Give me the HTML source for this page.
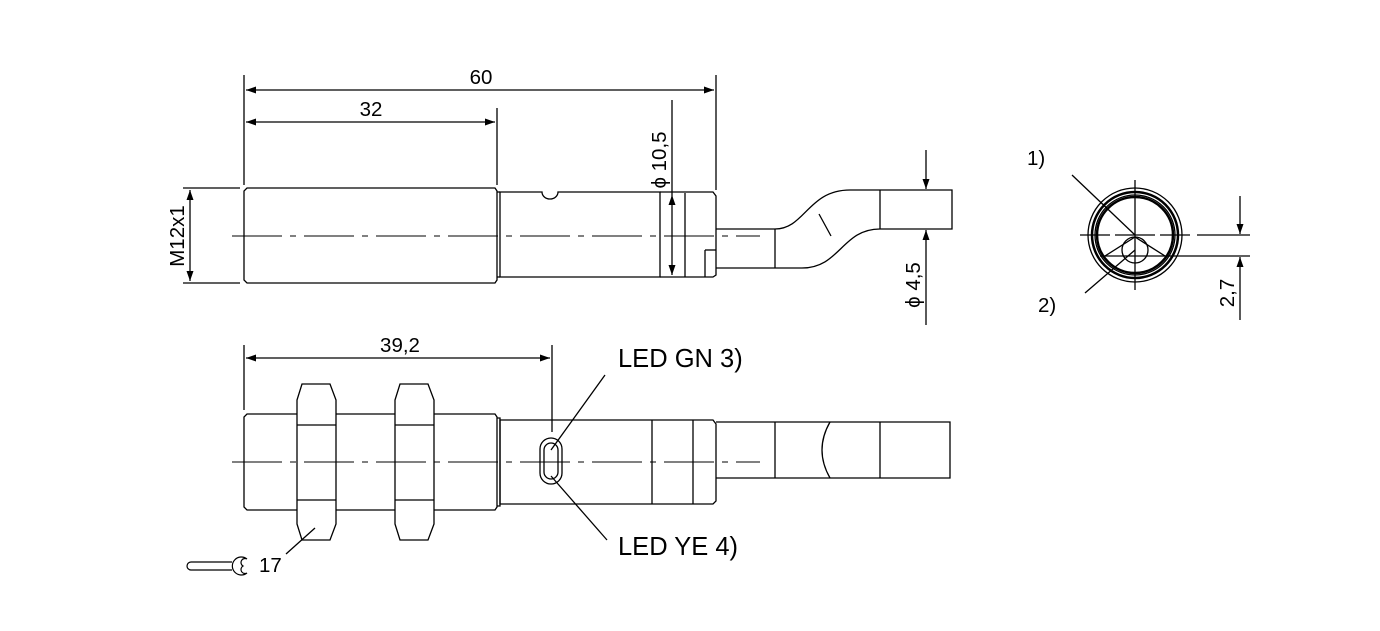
<!DOCTYPE html>
<html><head><style>html,body{margin:0;background:#fff}svg{display:block}</style></head>
<body>
<svg width="1380" height="631" viewBox="0 0 1380 631" xmlns="http://www.w3.org/2000/svg" font-family="Liberation Sans, sans-serif" font-size="20.5" fill="none" stroke="#000" stroke-width="1.3">
<defs>
<marker id="a" viewBox="0 0 10 10" refX="10" refY="5" markerWidth="14" markerHeight="10" markerUnits="userSpaceOnUse" orient="auto-start-reverse"><path d="M0,1.5 L10,5 L0,8.5z" fill="#000" stroke="none"/></marker>
</defs>
<!-- TOP VIEW -->
<g>
<line x1="244" y1="75" x2="244" y2="185"/><line x1="716" y1="75" x2="716" y2="190"/><line x1="497" y1="108" x2="497" y2="185"/>
<line x1="246" y1="90" x2="714" y2="90" marker-start="url(#a)" marker-end="url(#a)"/>
<line x1="246" y1="122" x2="495" y2="122" marker-start="url(#a)" marker-end="url(#a)"/>
<text x="481" y="84" fill="#000" stroke="none" text-anchor="middle">60</text>
<text x="371" y="116" fill="#000" stroke="none" text-anchor="middle">32</text>
<line x1="183" y1="188" x2="240" y2="188"/><line x1="183" y1="283" x2="240" y2="283"/>
<line x1="190" y1="190" x2="190" y2="281" marker-start="url(#a)" marker-end="url(#a)"/>
<text transform="translate(184,236) rotate(-90)" fill="#000" stroke="none" text-anchor="middle">M12x1</text>
<path d="M247,188 H495 L497,191 V280 L495,283 H247 L244,280 V191Z"/>
<line x1="497" y1="192" x2="500" y2="192"/><line x1="497" y1="277" x2="500" y2="277"/>
<path d="M500,192 H542 A8,7 0 0 0 558,192 H660 V277 H500Z"/>
<path d="M660,192 H713 L716,196 V275 L713,277 H660"/>
<line x1="685" y1="193" x2="685" y2="277"/><line x1="705" y1="250" x2="716" y2="250"/><line x1="705" y1="250" x2="705" y2="277"/>
<line x1="672" y1="195" x2="672" y2="275" marker-start="url(#a)" marker-end="url(#a)"/>
<line x1="672" y1="100" x2="672" y2="195"/>
<text transform="translate(666,160) rotate(-90)" fill="#000" stroke="none" text-anchor="middle">ϕ 10,5</text>
<path d="M716,229 H775 C805,229 808,190 850,190 H952 V229 H880 C842,229 840,268 802,268 H716"/>
<line x1="775" y1="229" x2="775" y2="268"/><line x1="819" y1="214" x2="831" y2="236"/><line x1="880" y1="190" x2="880" y2="229"/>
<line x1="232" y1="236" x2="760" y2="236" stroke-dasharray="50,8,6,8" stroke-width="1"/>
<line x1="926" y1="150" x2="926" y2="189" marker-end="url(#a)"/>
<line x1="926" y1="325" x2="926" y2="230" marker-end="url(#a)"/>
<text transform="translate(920,285) rotate(-90)" fill="#000" stroke="none" text-anchor="middle">ϕ 4,5</text>
</g>
<!-- END VIEW -->
<g>
<circle cx="1135" cy="235" r="47"/><circle cx="1135" cy="235" r="43" stroke-width="2.5"/><circle cx="1135" cy="235" r="38" stroke-width="2.5"/><circle cx="1135" cy="235" r="40"/>
<circle cx="1135" cy="250" r="13"/>
<path d="M1105,256 L1135,237 L1165,256"/><line x1="1100" y1="256" x2="1250" y2="256"/>
<line x1="1080" y1="235" x2="1110" y2="235"/><line x1="1115" y1="235" x2="1155" y2="235"/><line x1="1160" y1="235" x2="1190" y2="235"/><line x1="1197" y1="235" x2="1250" y2="235"/>
<line x1="1135" y1="180" x2="1135" y2="290"/>
<line x1="1072" y1="175" x2="1135" y2="235"/><line x1="1085" y1="293" x2="1135" y2="250"/>
<text x="1027" y="165" fill="#000" stroke="none">1)</text><text x="1038" y="312" fill="#000" stroke="none">2)</text>
<line x1="1240" y1="196" x2="1240" y2="234" marker-end="url(#a)"/>
<line x1="1240" y1="320" x2="1240" y2="257" marker-end="url(#a)"/>
<text transform="translate(1234,293) rotate(-90)" fill="#000" stroke="none" text-anchor="middle">2,7</text>
</g>
<!-- BOTTOM VIEW -->
<g>
<line x1="244" y1="345" x2="244" y2="410"/><line x1="552" y1="345" x2="552" y2="432"/>
<line x1="246" y1="358" x2="550" y2="358" marker-start="url(#a)" marker-end="url(#a)"/>
<text x="400" y="352" fill="#000" stroke="none" text-anchor="middle">39,2</text>
<path d="M247,414 H495 L497,417 V507 L495,510 H247 L244,507 V417Z"/>
<path d="M497,418 H500 V506 H497"/>
<path d="M500,420 H713 L716,424 V501 L713,504 H500Z"/>
<line x1="652" y1="420" x2="652" y2="504"/><line x1="693" y1="420" x2="693" y2="504"/>
<path d="M302,384 H330 L336,400 V524 L330,540 H302 L297,524 V400Z" fill="#fff"/>
<line x1="297" y1="425" x2="336" y2="425"/><line x1="297" y1="500" x2="336" y2="500"/>
<path d="M400,384 H428 L434,400 V524 L428,540 H400 L395,524 V400Z" fill="#fff"/>
<line x1="395" y1="425" x2="434" y2="425"/><line x1="395" y1="500" x2="434" y2="500"/>
<path d="M716,422 H950 V478 H716"/>
<line x1="775" y1="422" x2="775" y2="478"/><line x1="880" y1="422" x2="880" y2="478"/>
<path d="M830,422 Q814,450 830,478"/>
<rect x="540" y="438" width="22" height="46" rx="11"/><rect x="544" y="443" width="14" height="36" rx="7"/>
<line x1="232" y1="462" x2="760" y2="462" stroke-dasharray="50,8,6,8" stroke-width="1"/>
<line x1="551" y1="450" x2="605" y2="375"/><line x1="551" y1="476" x2="607" y2="540"/>
<text x="618" y="367" fill="#000" stroke="none" font-size="25.5">LED GN 3)</text>
<text x="618" y="555" fill="#000" stroke="none" font-size="25.5">LED YE 4)</text>
<line x1="286" y1="554" x2="315" y2="528"/>
<path d="M232,562 H191 A4,4 0 0 0 191,570 H232" stroke-width="1.2"/>
<path d="M247,559 A9,9 0 1 0 247,573 A3.5,3.5 0 0 1 243,566 A3.5,3.5 0 0 1 247,559" stroke-width="1.2" fill="#fff"/>
<text x="259" y="572" fill="#000" stroke="none">17</text>
</g>
</svg>
</body></html>
